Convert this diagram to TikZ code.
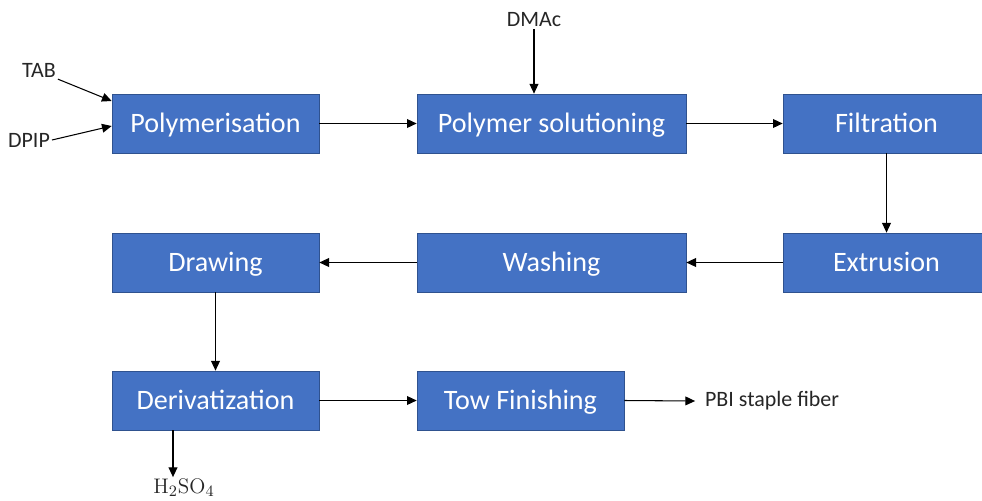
\documentclass[tikz,border=0pt]{standalone}
\usepackage[no-math]{fontspec}
\setmainfont{Carlito}
\usetikzlibrary{arrows.meta}
\definecolor{boxblue}{HTML}{4472C4}
\definecolor{boxedge}{HTML}{2F528F}
\tikzset{
  stepbox/.style={draw=boxedge, fill=boxblue, text=white, font=\fontsize{16}{19}\selectfont,
    minimum width=4.14cm, minimum height=1.18cm, inner sep=0pt, text height=12.5pt, text depth=1.7pt},
  flow/.style={-{Triangle[length=5.5pt,width=5pt]}, line width=0.6pt},
  feed/.style={font=\fontsize{12.5}{15}\selectfont, text=black!85, inner sep=1pt}
}
\begin{document}
\begin{tikzpicture}[x=0.02cm,y=-0.02cm]
\useasboundingbox (0,0) rectangle (982,500);
\node[stepbox] (poly) at (215.5,123.5) {Polymerisation};
\node[stepbox, minimum width=5.38cm] (solut) at (551.5,123.5) {Polymer solutioning};
\node[stepbox] (filt) at (886.5,123.5) {Filtration};
\node[stepbox] (extr) at (886.5,262.5) {Extrusion};
\node[stepbox, minimum width=5.38cm] (wash) at (551.5,262.5) {Washing};
\node[stepbox] (drawing) at (215.5,262.5) {Drawing};
\node[stepbox] (deriv) at (215.5,400.5) {Derivatization};
\node[stepbox] (tow) at (520.5,400.5) {Tow Finishing};
\node[feed] (tab) at (39,70) {TAB};
\node[feed] (dpip) at (29,140) {DPIP};
\node[feed] (dmac) at (534,20) {DMAc};
\node[feed, anchor=west] (pbi) at (703,401) {PBI staple fiber};
\node[feed] (acid) at (184,488) {$\mathrm{H_2SO_4}$};
\draw[flow] (tab.south east) -- (poly.west |- 0,101);
\draw[flow] (dpip.east) -- (poly.west |- 0,126);
\draw[flow] (dmac.south) -- (dmac.south |- solut.north);
\draw[flow] (poly) -- (solut);
\draw[flow] (solut) -- (filt);
\draw[flow] (filt) -- (extr);
\draw[flow] (extr) -- (wash);
\draw[flow] (wash) -- (drawing);
\draw[flow] (drawing) -- (deriv);
\draw[flow] (deriv) -- (tow);
\draw[flow] (tow.east) -- ([xshift=-4.5pt]pbi.west);
\draw[flow] (deriv.south -| 173,0) -- (acid.north -| 173,0);
\end{tikzpicture}
\end{document}
